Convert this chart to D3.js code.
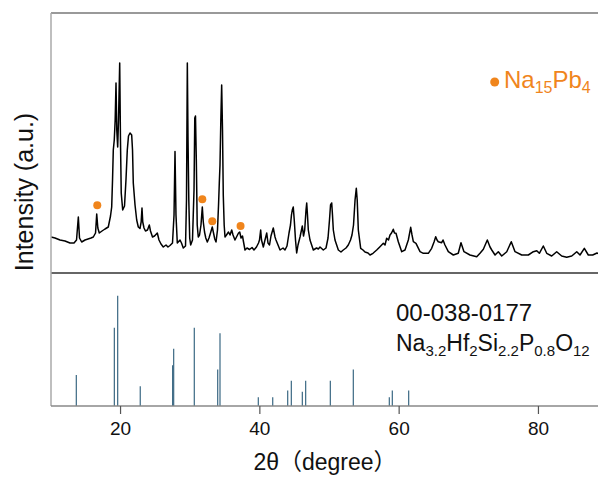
<!DOCTYPE html>
<html>
<head>
<meta charset="utf-8">
<script src="https://cdn.jsdelivr.net/npm/d3@7"></script>
<style>
  html, body { margin: 0; padding: 0; background: #fff; }
  svg { display: block; font-family: "Liberation Sans", Arial, "Noto Sans CJK SC", sans-serif; }
</style>
</head>
<body>
<div id="chart"></div>
<script>
// measured pattern (2theta, intensity a.u.)
const twoTheta = [
  10.09, 10.66, 11.38, 12.10, 12.81, 13.39, 13.75, 14.01, 14.18, 14.49, 14.97, 15.40, 15.83, 16.16, 16.48, 16.65, 16.81,
  17.02, 17.41, 17.84, 18.31, 18.63, 18.80, 18.92, 19.03, 19.17, 19.30, 19.42, 19.53, 19.66, 19.78, 19.95, 20.06, 20.17,
  20.38, 20.64, 20.85, 21.04, 21.21, 21.43, 21.67, 21.79, 21.90, 22.15, 22.39, 22.62, 22.86, 23.03, 23.15, 23.26, 23.44,
  23.65, 23.94, 24.20, 24.37, 24.66, 24.95, 25.35, 25.59, 25.88, 26.21, 26.60, 26.88, 27.17, 27.53, 27.75, 27.89, 28.03,
  28.22, 28.61, 28.82, 29.08, 29.40, 29.54, 29.66, 29.76, 29.87, 30.00, 30.14, 30.40, 30.62, 30.73, 30.83, 30.95, 31.08,
  31.23, 31.41, 31.62, 31.81, 31.95, 32.13, 32.31, 32.53, 32.77, 32.99, 33.24, 33.42, 33.60, 33.78, 33.99, 34.14, 34.25,
  34.35, 34.47, 34.59, 34.71, 34.82, 34.95, 35.07, 35.28, 35.57, 35.79, 36.03, 36.22, 36.50, 36.79, 37.01, 37.18, 37.37,
  37.58, 37.73, 37.94, 38.23, 38.59, 38.95, 39.23, 39.59, 39.88, 40.02, 40.19, 40.31, 40.57, 40.81, 41.06, 41.24, 41.46,
  41.67, 42.00, 42.25, 42.39, 42.68, 42.97, 43.40, 43.68, 43.97, 44.26, 44.47, 44.61, 44.73, 44.87, 45.01, 45.19, 45.36,
  45.55, 45.84, 46.17, 46.34, 46.51, 46.70, 46.80, 46.91, 47.03, 47.27, 47.75, 48.21, 48.47, 48.71, 49.18, 49.57, 49.86,
  50.07, 50.22, 50.39, 50.50, 50.62, 50.86, 51.34, 51.72, 52.05, 52.44, 52.77, 53.09, 53.30, 53.52, 53.74, 53.92, 54.05,
  54.21, 54.55, 54.88, 55.17, 55.60, 55.89, 56.32, 56.85, 57.32, 57.80, 58.04, 58.28, 58.54, 58.76, 58.98, 59.23, 59.40,
  59.62, 59.95, 60.44, 60.91, 61.39, 61.73, 61.92, 62.11, 62.49, 63.07, 63.54, 64.26, 64.74, 65.08, 65.32, 65.51, 65.69,
  66.18, 66.37, 66.65, 67.13, 67.85, 68.56, 68.95, 69.38, 70.24, 71.21, 71.68, 72.16, 72.73, 73.12, 73.37, 73.84, 74.31,
  74.80, 75.52, 76.17, 76.71, 77.67, 78.62, 79.34, 79.83, 80.20, 80.77, 81.26, 81.97, 82.69, 83.41, 84.13, 84.85, 85.57,
  86.04, 86.66, 87.23, 87.86, 88.48, 89.05, 89.77
];
const intensity = [
  36, 35, 33, 32, 30, 30, 33, 56, 35, 31, 33, 34, 35, 36, 40, 59, 45,
  40, 42, 44, 46, 57, 66, 93, 123, 133, 153, 190, 143, 126, 153, 210, 133, 80,
  63, 67, 93, 123, 137, 140, 138, 123, 90, 68, 53, 46, 44.5, 51, 65, 51, 45,
  42, 43, 48, 42, 36, 37, 40, 33, 29, 26, 28, 26, 27.5, 30, 58, 121.5, 58,
  30, 33, 30, 25, 27, 73, 210, 133, 73, 35, 28, 33, 83, 155, 157, 113, 48,
  36, 38, 48, 66, 51, 41, 35, 31, 35, 40, 46, 40, 34, 31, 43, 68, 90,
  108, 153, 188, 143, 78, 48, 36, 38, 41, 38, 43, 38, 33, 37, 40, 41, 35,
  37, 31, 23, 25, 23.5, 25.5, 23, 26, 30, 33, 43, 33, 26, 33, 40, 30, 28,
  37, 45, 36, 33, 28, 23, 25, 23, 27, 40, 48, 58, 63, 66, 53, 33, 20,
  28, 36, 47, 37, 43, 63, 70, 58, 43, 33, 23, 25, 24, 26, 23, 25, 35,
  53, 68, 70, 58, 43, 33, 23, 21, 23, 25, 28, 33, 38, 48, 73, 84.7, 73,
  43, 24.7, 23, 21, 20, 18, 19.7, 23, 26.3, 29.7, 28, 34.7, 33, 38, 40, 43.7, 40,
  39.7, 31.3, 21.3, 23, 33, 45.7, 38, 31.3, 29.7, 21.3, 19.7, 19.7, 24.7, 31, 36.3, 33, 31.3,
  30.3, 33, 28, 21.3, 18, 19.7, 30.3, 21.3, 18, 16.3, 19.7, 23.7, 33, 26, 23, 18, 21.3,
  17, 21.3, 31.3, 21.3, 18, 18, 21.3, 22.3, 19.7, 27, 19.7, 17, 21.3, 17, 15.7, 17, 21.3,
  18, 24.7, 18, 18, 20, 18, 19
];

// Na15Pb4 markers
const markerTheta = [16.73, 31.81, 33.24, 37.3];
const markerIntensity = [67.7, 73.7, 51.7, 47];

// reference card 00-038-0177 sticks
const refTheta = [13.72, 19.18, 19.66, 22.9, 27.55, 27.7, 30.66, 34.02, 34.35, 39.85, 41.92, 44.07, 44.59, 46.17, 46.65, 50.19, 53.49, 58.66, 59.09, 61.44];
const refIntensity = [28, 71, 100, 18, 37, 52, 71, 33, 66, 8, 8, 14, 23, 13, 23, 23, 33, 8, 14, 14];

const xTicks = [20, 40, 60, 80];

const width = 598, height = 478;
const left = 50.4, plotRight = 607.6;
const topY = 13, midY = 273, bottomY = 406;
const orange = "#f0851c";

const svg = d3.select("#chart").append("svg")
  .attr("width", width)
  .attr("height", height);

const x = d3.scaleLinear().domain([10, 90]).range([left, plotRight]);
const yTop = d3.scaleLinear().domain([0, 260]).range([midY, topY]);
const yRef = d3.scaleLinear().domain([0, 120.6]).range([bottomY, midY]);

// pattern line
const pts = twoTheta.map((t, i) => [t, intensity[i]]);
const line = d3.line().x(d => x(d[0])).y(d => yTop(d[1]));
svg.append("path")
  .datum(pts)
  .attr("d", line)
  .attr("fill", "none")
  .attr("stroke", "#000")
  .attr("stroke-width", 1.5)
  .attr("stroke-linejoin", "round");

// markers
svg.append("g")
  .selectAll("circle")
  .data(markerTheta)
  .join("circle")
  .attr("cx", d => x(d))
  .attr("cy", (d, i) => yTop(markerIntensity[i]))
  .attr("r", 4)
  .attr("fill", orange);

// reference sticks
svg.append("g")
  .attr("stroke", "#3a6883")
  .attr("stroke-width", 1.2)
  .selectAll("line")
  .data(refTheta)
  .join("line")
  .attr("x1", d => x(d))
  .attr("x2", d => x(d))
  .attr("y1", yRef(0))
  .attr("y2", (d, i) => yRef(refIntensity[i]));

// frame
svg.append("line").attr("x1", 51).attr("x2", width).attr("y1", topY).attr("y2", topY)
  .attr("stroke", "#777").attr("stroke-width", 1.5);
svg.append("line").attr("x1", 51).attr("x2", width).attr("y1", midY).attr("y2", midY)
  .attr("stroke", "#333").attr("stroke-width", 1.5);
svg.append("line").attr("x1", 51).attr("x2", 51).attr("y1", topY).attr("y2", bottomY)
  .attr("stroke", "#aaa").attr("stroke-width", 1.5);

// x axis
const xAxis = svg.append("g")
  .attr("transform", `translate(0,${bottomY})`)
  .call(d3.axisBottom(x).tickValues(xTicks).tickSize(8).tickSizeOuter(0).tickPadding(8));
xAxis.select(".domain").attr("stroke", "#888").attr("stroke-width", 1.5)
  .attr("d", `M51,0H${width}`);
xAxis.selectAll(".tick line").attr("stroke", "#555").attr("stroke-width", 1.2);
xAxis.selectAll(".tick text")
  .attr("font-size", 19)
  .attr("fill", "#111")
  .attr("font-family", "Liberation Sans, Arial, sans-serif");

// axis titles
svg.append("text")
  .attr("x", 325)
  .attr("y", 470)
  .attr("text-anchor", "middle")
  .attr("font-size", 23)
  .attr("fill", "#111")
  .text("2θ（degree）");

svg.append("text")
  .attr("transform", "translate(33,192) rotate(-90)")
  .attr("text-anchor", "middle")
  .attr("font-size", 25)
  .attr("fill", "#111")
  .text("Intensity (a.u.)");

// legend
svg.append("circle").attr("cx", 494.7).attr("cy", 82).attr("r", 4.5).attr("fill", orange);
const leg = svg.append("text")
  .attr("x", 504)
  .attr("y", 88)
  .attr("font-size", 24)
  .attr("fill", orange);
leg.append("tspan").text("Na");
leg.append("tspan").attr("font-size", 16).attr("dy", 5).text("15");
leg.append("tspan").attr("dy", -5).text("Pb");
leg.append("tspan").attr("font-size", 16).attr("dy", 5).text("4");

// reference card label
svg.append("text")
  .attr("x", 396)
  .attr("y", 321)
  .attr("font-size", 24)
  .attr("fill", "#111")
  .text("00-038-0177");

const formula = svg.append("text")
  .attr("x", 396)
  .attr("y", 351)
  .attr("font-size", 23)
  .attr("fill", "#111");
[["Na", false], ["3.2", true], ["Hf", false], ["2", true], ["Si", false], ["2.2", true],
 ["P", false], ["0.8", true], ["O", false], ["12", true]].forEach(([t, sub], i, arr) => {
  const prevSub = i > 0 && arr[i - 1][1];
  const dy = sub ? 5 : (prevSub ? -5 : 0);
  const ts = formula.append("tspan").attr("dy", dy).text(t);
  if (sub) ts.attr("font-size", 15);
});
</script>
</body>
</html>
